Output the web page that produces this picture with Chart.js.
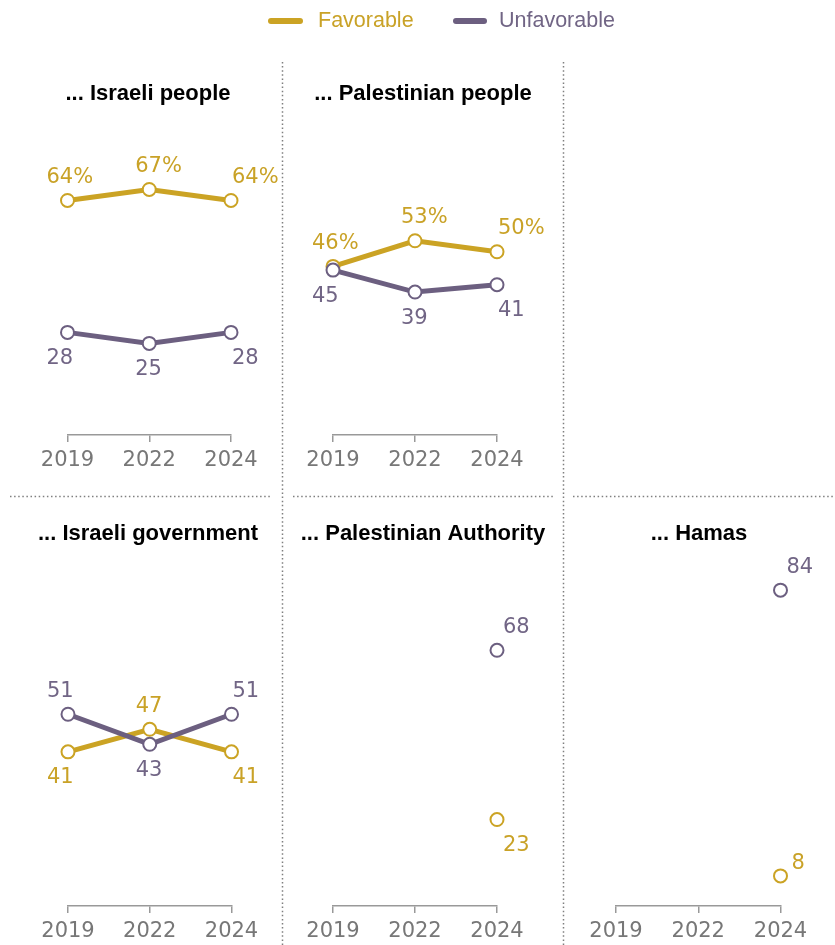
<!DOCTYPE html>
<html><head><meta charset="utf-8">
<script src="https://cdn.jsdelivr.net/npm/chart.js@4"></script>
<style>
html,body{margin:0;padding:0;background:#fff;}
body{width:835px;height:945px;position:relative;overflow:hidden;}
canvas{position:absolute;}
</style></head><body>
<canvas id="frame" width="835" height="945" style="left:0;top:0"></canvas>
<canvas id="p1" width="270" height="436" style="left:13px;top:60px"></canvas>
<canvas id="p2" width="280" height="436" style="left:283px;top:60px"></canvas>
<canvas id="p4" width="270" height="449" style="left:13px;top:496px"></canvas>
<canvas id="p5" width="280" height="449" style="left:283px;top:496px"></canvas>
<canvas id="p6" width="272" height="449" style="left:563px;top:496px"></canvas>
<script>
// ---- data ----
const years = ['2019', '2022', '2024'];
const seriesNames = ['Favorable', 'Unfavorable'];
const panelTitles = ['... Israeli people', '... Palestinian people', '... Israeli government', '... Palestinian Authority', '... Hamas'];
const favIsraeliPeople = [64, 67, 64];
const unfavIsraeliPeople = [28, 25, 28];
const favPalestinianPeople = [46, 53, 50];
const unfavPalestinianPeople = [45, 39, 41];
const favIsraeliGov = [41, 47, 41];
const unfavIsraeliGov = [51, 43, 51];
const favPA = [null, null, 23];
const unfavPA = [null, null, 68];
const favHamas = [null, null, 8];
const unfavHamas = [null, null, 84];

// ---- styles ----
const FAV = '#CBA324';
const UNFAV = '#6C5F80';
const FAV_TXT = '#C9A227';
const UNFAV_TXT = '#716585';

const framePlugin = {
  id: 'frameDecor',
  afterDraw(chart) {
    const ctx = chart.ctx;
    ctx.save();
    // dotted separators
    ctx.strokeStyle = '#7f7f7f';
    ctx.lineWidth = 1.5;
    ctx.setLineDash([1.5, 2.6]);
    const seg = (x1, y1, x2, y2) => { ctx.beginPath(); ctx.moveTo(x1, y1); ctx.lineTo(x2, y2); ctx.stroke(); };
    seg(282.5, 62, 282.5, 945);
    seg(563.5, 62, 563.5, 945);
    seg(10, 496.5, 271, 496.5);
    seg(293, 496.5, 553, 496.5);
    seg(573, 496.5, 835, 496.5);
    ctx.setLineDash([]);
    // legend
    const ds = chart.data.datasets;
    const items = [{x1: 271, x2: 300, tx: 318}, {x1: 456, x2: 484, tx: 499}];
    ds.forEach((d, i) => {
      const it = items[i];
      ctx.strokeStyle = d.borderColor;
      ctx.lineWidth = 6;
      ctx.lineCap = 'round';
      seg(it.x1, 21, it.x2, 21);
      ctx.fillStyle = d.labelColor;
      ctx.font = '21.5px "Liberation Sans", Arial, sans-serif';
      ctx.textBaseline = 'middle';
      ctx.textAlign = 'left';
      ctx.fillText(d.label, it.tx, 21);
    });
    ctx.restore();
  }
};

new Chart(document.getElementById('frame'), {
  type: 'line',
  data: {
    labels: [],
    datasets: [
      {label: seriesNames[0], data: [], borderColor: FAV, labelColor: FAV_TXT},
      {label: seriesNames[1], data: [], borderColor: UNFAV, labelColor: UNFAV_TXT}
    ]
  },
  options: {
    responsive: false, animation: false, devicePixelRatio: 1,
    plugins: {legend: {display: false}, tooltip: {enabled: false}},
    scales: {x: {display: false}, y: {display: false}}
  },
  plugins: [framePlugin]
});

const titlePlugin = {
  id: 'panelTitle',
  afterDraw(chart, args, opts) {
    const ctx = chart.ctx;
    ctx.save();
    ctx.font = 'bold 22px "Liberation Sans", Arial, sans-serif';
    ctx.fillStyle = '#000';
    ctx.textAlign = 'center';
    ctx.textBaseline = 'alphabetic';
    ctx.fillText(opts.text, chart.width / 2, opts.y);
    ctx.restore();
  }
};

const labelPlugin = {
  id: 'valueLabels',
  afterDatasetsDraw(chart, args, opts) {
    const ctx = chart.ctx;
    ctx.save();
    ctx.font = '21px "DejaVu Sans", sans-serif';
    ctx.textAlign = 'left';
    ctx.textBaseline = 'middle';
    const ds = chart.data.datasets;
    ds.forEach((d, di) => {
      const meta = chart.getDatasetMeta(di);
      const other = ds[1 - di].data;
      const single = d.data.filter(v => v != null).length === 1;
      d.data.forEach((v, i) => {
        if (v == null) return;
        const pt = meta.data[i];
        const o = other[i];
        let dx = single ? 6 : [-21, -14, 1][i];
        let dy;
        if (v < 15) { dx = 11; dy = -12; }
        else if (o == null || v >= o) dy = -23;
        else dy = 26;
        const txt = String(v) + (opts.pct && d.isFav ? '%' : '');
        ctx.fillStyle = d.labelColor;
        ctx.fillText(txt, pt.x + dx, pt.y + dy);
      });
    });
    ctx.restore();
  }
};

function makePanel(id, title, fav, unfav, pad, titleY, pct) {
  new Chart(document.getElementById(id), {
    type: 'line',
    data: {
      labels: years,
      datasets: [
        {label: seriesNames[0], data: fav, isFav: true, labelColor: FAV_TXT, borderColor: FAV, backgroundColor: '#fff',
         borderWidth: 5, pointRadius: 6.5, pointBorderWidth: 2, pointBackgroundColor: '#fff', pointBorderColor: FAV,
         order: 1, clip: false, tension: 0, spanGaps: false},
        {label: seriesNames[1], data: unfav, isFav: false, labelColor: UNFAV_TXT, borderColor: UNFAV, backgroundColor: '#fff',
         borderWidth: 5, pointRadius: 6.5, pointBorderWidth: 2, pointBackgroundColor: '#fff', pointBorderColor: UNFAV,
         order: 0, clip: false, tension: 0, spanGaps: false}
      ]
    },
    options: {
      responsive: false, animation: false, devicePixelRatio: 1,
      layout: {padding: pad},
      plugins: {
        legend: {display: false}, tooltip: {enabled: false}, title: {display: false},
        panelTitle: {text: title, y: titleY},
        valueLabels: {pct: pct}
      },
      scales: {
        x: {
          type: 'category', offset: false,
          border: {display: true, color: '#999', width: 1.5},
          grid: {display: true, drawOnChartArea: false, drawTicks: true, tickLength: 7, color: '#999', lineWidth: 1.5},
          ticks: {color: '#777', font: {family: '"DejaVu Sans", sans-serif', size: 21}, padding: 6, maxRotation: 0, autoSkip: false},
          afterFit(s) { s.height = 36; }
        },
        y: {display: false, min: 0, max: 100}
      }
    },
    plugins: [titlePlugin, labelPlugin]
  });
}

makePanel('p1', panelTitles[0], favIsraeliPeople, unfavIsraeliPeople, {left: 54.5, right: 52, top: 2, bottom: 25}, 40, true);
makePanel('p2', panelTitles[1], favPalestinianPeople, unfavPalestinianPeople, {left: 50, right: 66, top: 2, bottom: 25}, 40, true);
makePanel('p4', panelTitles[2], favIsraeliGov, unfavIsraeliGov, {left: 55, right: 51.5, top: 34, bottom: 3}, 44, false);
makePanel('p5', panelTitles[3], favPA, unfavPA, {left: 50, right: 66, top: 34, bottom: 3}, 44, false);
makePanel('p6', panelTitles[4], favHamas, unfavHamas, {left: 53, right: 54.5, top: 34, bottom: 3}, 44, false);
</script>
</body></html>
